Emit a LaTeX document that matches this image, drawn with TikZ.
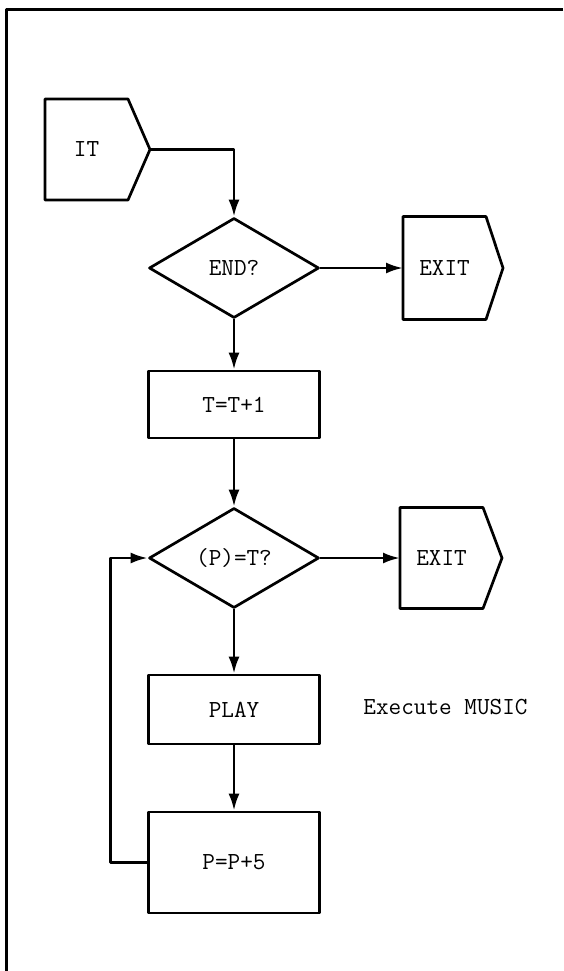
\documentclass[tikz,border=0pt]{standalone}
\usepackage{fontspec}
\usetikzlibrary{shapes.geometric,arrows.meta}
\begin{document}
\begin{tikzpicture}[x=1pt,y=-1pt,line width=2.7pt,line join=round,>={Latex[length=17pt,width=11pt]},
	font=\ttfamily\fontsize{24.5}{28}\selectfont,
	box/.style={draw,rectangle,minimum width=171pt,inner sep=0pt},
	test/.style={draw,diamond,minimum width=170pt,minimum height=100pt,inner sep=0pt,shape aspect=1.7},
	tag/.style={rectangle,minimum width=83pt,inner sep=0pt,outer sep=0pt}]
	\useasboundingbox (0,0) rectangle (563,971);
	% frame
	\draw[line width=3pt] (563,10) -- (6,10) -- (6,971);
	% steps
	\node[tag,minimum height=101pt] (it) at (86.5,149.5) {IT};
	\node[test] (enda) at (234,268) {END?};
	\node[tag,minimum height=103pt] (exita) at (444.5,268) {EXIT};
	\node[box,minimum height=67pt] (inc) at (234,404.5) {T=T+1};
	\node[test] (chk) at (234,558) {(P)=T?};
	\node[tag,minimum height=101pt] (exitb) at (441.5,558) {EXIT};
	\node[box,minimum height=69pt] (play) at (234,709.5) {PLAY};
	\node (note) at (445.5,707) {Execute MUSIC};
	\node[box,minimum height=101pt] (step) at (234,862.5) {P=P+5};
	% pointed boxes
	\foreach \n/\d in {it/22,exita/17,exitb/19}
	\draw (\n.north west) -- (\n.north east) -- ([xshift=\d pt]\n.east) coordinate (\n-tip)
		-- (\n.south east) -- (\n.south west) -- cycle;
	% flow
	\draw[->] (it-tip) -| (enda.north);
	\draw[->] (enda.east) -- (exita.west);
	\draw[->] (enda) -- (inc);
	\draw[->] (inc) -- (chk);
	\draw[->] (chk.east) -- (exitb.west);
	\draw[->] (chk) -- (play);
	\draw[->] (play) -- (step);
	\draw[->] (step.west) -- ++(-37,0) |- (chk.west);
\end{tikzpicture}
\end{document}
